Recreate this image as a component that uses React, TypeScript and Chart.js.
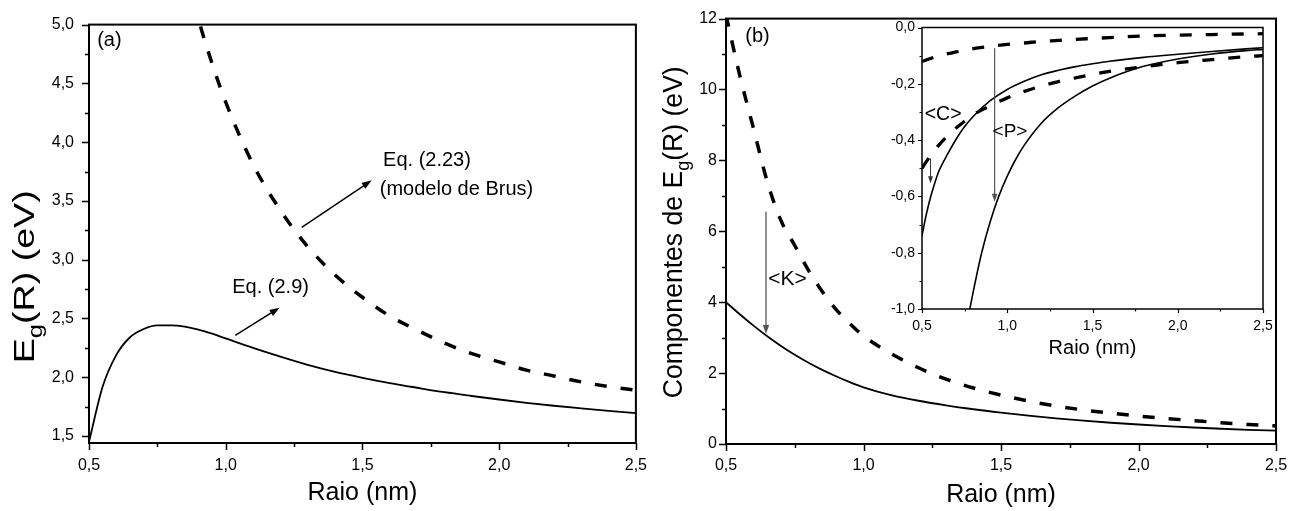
import React, { useEffect, useRef } from "react";
import { Chart, registerables } from "chart.js";
Chart.register(...registerables);

const FONT = "'Liberation Sans', Arial, Helvetica, sans-serif";

// ---------- Panel (a) ----------
const radiusA = [0.5, 0.55, 0.6, 0.65, 0.7, 0.75, 0.8, 0.85, 0.9, 0.95, 1.0, 1.1, 1.2, 1.3, 1.4, 1.5, 1.6, 1.7, 1.8, 1.9, 2.0, 2.1, 2.2, 2.3, 2.4, 2.5];
const eq29 = [1.45, 1.92, 2.19, 2.34, 2.41, 2.44, 2.44, 2.43, 2.405, 2.37, 2.33, 2.25, 2.175, 2.105, 2.045, 1.995, 1.95, 1.91, 1.872, 1.84, 1.81, 1.782, 1.757, 1.735, 1.714, 1.695];
const radiusBrus = [0.85, 0.9, 0.95, 1.0, 1.1, 1.2, 1.3, 1.4, 1.5, 1.6, 1.7, 1.8, 1.9, 2.0, 2.1, 2.2, 2.3, 2.4, 2.5];
const brus = [5.53, 5.05, 4.67, 4.34, 3.81, 3.42, 3.11, 2.87, 2.68, 2.52, 2.4, 2.29, 2.2, 2.13, 2.06, 2.01, 1.96, 1.92, 1.89];

// ---------- Panel (b) ----------
const radiusB = [0.5, 0.55, 0.6, 0.65, 0.7, 0.75, 0.8, 0.85, 0.9, 0.95, 1.0, 1.1, 1.2, 1.3, 1.4, 1.5, 1.6, 1.7, 1.8, 1.9, 2.0, 2.1, 2.2, 2.3, 2.4, 2.5];
const kinetic = [4.0, 3.66, 3.34, 3.04, 2.765, 2.515, 2.29, 2.09, 1.91, 1.745, 1.6, 1.38, 1.22, 1.09, 0.98, 0.885, 0.8, 0.725, 0.66, 0.6, 0.55, 0.505, 0.465, 0.43, 0.4, 0.375];
const confinement = [12.1, 10.4, 8.9, 7.4, 6.3, 5.6, 4.9, 4.3, 3.8, 3.4, 3.05, 2.55, 2.15, 1.83, 1.58, 1.38, 1.21, 1.07, 0.96, 0.87, 0.79, 0.72, 0.66, 0.6, 0.55, 0.51];

// ---------- Inset ----------
const radiusIn = [0.5, 0.55, 0.6, 0.65, 0.7, 0.75, 0.8, 0.9, 1.0, 1.1, 1.2, 1.3, 1.4, 1.5, 1.6, 1.8, 2.0, 2.2, 2.4, 2.5];
const insetUpperDashed = [-0.121, -0.11, -0.1, -0.093, -0.087, -0.081, -0.075, -0.067, -0.06, -0.055, -0.049, -0.046, -0.042, -0.039, -0.036, -0.03, -0.027, -0.025, -0.023, -0.022];
const insetLowerDashed = [-0.5, -0.455, -0.417, -0.385, -0.357, -0.333, -0.31, -0.278, -0.25, -0.227, -0.208, -0.192, -0.179, -0.167, -0.156, -0.139, -0.125, -0.114, -0.104, -0.1];
const radiusC = [0.5, 0.525, 0.55, 0.575, 0.6, 0.65, 0.7, 0.75, 0.8, 0.9, 1.0, 1.1, 1.2, 1.3, 1.4, 1.5, 1.6, 1.8, 2.0, 2.2, 2.4, 2.5];
const coulombC = [-0.74, -0.665, -0.603, -0.552, -0.509, -0.45, -0.397, -0.352, -0.316, -0.26, -0.22, -0.191, -0.168, -0.152, -0.139, -0.129, -0.12, -0.106, -0.095, -0.085, -0.076, -0.072];
const radiusP = [0.7, 0.75, 0.8, 0.85, 0.9, 0.95, 1.0, 1.05, 1.1, 1.2, 1.3, 1.4, 1.5, 1.6, 1.8, 2.0, 2.2, 2.4, 2.5];
const polarP = [-1.3, -1.1, -0.94, -0.8, -0.69, -0.6, -0.528, -0.468, -0.418, -0.34, -0.285, -0.243, -0.208, -0.18, -0.138, -0.112, -0.094, -0.082, -0.078];

const fmtComma = (v: number) => (Math.abs(v) < 1e-9 ? 0 : v).toFixed(1).replace(".", ",");
const fmtInt = (v: number) => String(Math.round(v));
const isMult = (v: number, step: number) => Math.abs(v / step - Math.round(v / step)) < 1e-6;
const pts = (xs: number[], ys: number[]) => xs.map((x, i) => ({ x, y: ys[i] }));

type Part = { t: string; sub?: boolean };
type Txt = { text: string; x: number; y: number; size: number };
type Arrow = { x1: number; y1: number; x2: number; y2: number; color: string; width: number; head: number };

interface Spec {
  frameWidth: number;
  tickMajor: number;
  tickMinor: number;
  tickWidth: number;
  xMajor: number;
  xMinor: number;
  yMajor: number;
  yMinor: number;
  texts: Txt[];
  arrows: Arrow[];
  xTitle: { text: string; size: number; dy: number };
  yTitle?: { parts: Part[]; size: number; dx: number; dyCenter: number; length?: number };
}

function drawRich(ctx: CanvasRenderingContext2D, parts: Part[], size: number, cx: number, cy: number, rotate: boolean, length?: number) {
  ctx.save();
  const subSize = size * 0.68;
  const widths = parts.map((p) => {
    ctx.font = `${p.sub ? subSize : size}px ${FONT}`;
    return ctx.measureText(p.t).width;
  });
  const total = widths.reduce((a, b) => a + b, 0);
  ctx.translate(cx, cy);
  if (rotate) ctx.rotate(-Math.PI / 2);
  if (length) ctx.scale(length / total, 1);
  ctx.textBaseline = "alphabetic";
  ctx.textAlign = "left";
  ctx.fillStyle = "#000";
  let x = -total / 2;
  const base = size * 0.36;
  parts.forEach((p, i) => {
    ctx.font = `${p.sub ? subSize : size}px ${FONT}`;
    ctx.fillText(p.t, x, base + (p.sub ? size * 0.28 : 0));
    x += widths[i];
  });
  ctx.restore();
}

function decor(spec: Spec) {
  return {
    id: "panelDecor",
    afterDraw(chart: any) {
      const { ctx, chartArea: ca } = chart;
      const xs = chart.scales.x;
      const ys = chart.scales.y;
      ctx.save();
      ctx.strokeStyle = "#000";
      ctx.lineWidth = spec.tickWidth;
      ctx.beginPath();
      xs.ticks.forEach((t: any) => {
        if (t.value < xs.min - 1e-9 || t.value > xs.max + 1e-9) return;
        const major = isMult(t.value, spec.xMajor);
        const minor = isMult(t.value, spec.xMinor);
        if (!major && !minor) return;
        const px = Math.round(xs.getPixelForValue(t.value)) + 0.5;
        const len = major ? spec.tickMajor : spec.tickMinor;
        ctx.moveTo(px, ca.bottom);
        ctx.lineTo(px, ca.bottom + len);
      });
      ys.ticks.forEach((t: any) => {
        if (t.value < ys.min - 1e-9 || t.value > ys.max + 1e-9) return;
        const major = isMult(t.value, spec.yMajor);
        const minor = isMult(t.value, spec.yMinor);
        if (!major && !minor) return;
        const py = Math.round(ys.getPixelForValue(t.value)) + 0.5;
        const len = major ? spec.tickMajor : spec.tickMinor;
        ctx.moveTo(ca.left, py);
        ctx.lineTo(ca.left - len, py);
      });
      ctx.stroke();
      ctx.lineWidth = spec.frameWidth;
      ctx.strokeRect(ca.left, ca.top, ca.right - ca.left, ca.bottom - ca.top);

      spec.arrows.forEach((a) => {
        const x1 = xs.getPixelForValue(a.x1);
        const y1 = ys.getPixelForValue(a.y1);
        const x2 = xs.getPixelForValue(a.x2);
        const y2 = ys.getPixelForValue(a.y2);
        const ang = Math.atan2(y2 - y1, x2 - x1);
        ctx.strokeStyle = a.color;
        ctx.fillStyle = a.color;
        ctx.lineWidth = a.width;
        ctx.beginPath();
        ctx.moveTo(x1, y1);
        ctx.lineTo(x2 - Math.cos(ang) * a.head * 0.8, y2 - Math.sin(ang) * a.head * 0.8);
        ctx.stroke();
        const hw = a.head * 0.35;
        ctx.beginPath();
        ctx.moveTo(x2, y2);
        ctx.lineTo(x2 - Math.cos(ang) * a.head - Math.sin(ang) * hw, y2 - Math.sin(ang) * a.head + Math.cos(ang) * hw);
        ctx.lineTo(x2 - Math.cos(ang) * a.head + Math.sin(ang) * hw, y2 - Math.sin(ang) * a.head - Math.cos(ang) * hw);
        ctx.closePath();
        ctx.fill();
      });

      ctx.fillStyle = "#000";
      ctx.textAlign = "center";
      ctx.textBaseline = "middle";
      spec.texts.forEach((t) => {
        ctx.font = `${t.size}px ${FONT}`;
        ctx.fillText(t.text, xs.getPixelForValue(t.x), ys.getPixelForValue(t.y));
      });

      drawRich(ctx, [{ t: spec.xTitle.text }], spec.xTitle.size, (ca.left + ca.right) / 2, ca.bottom + spec.xTitle.dy, false);
      if (spec.yTitle) {
        const yt = spec.yTitle;
        drawRich(ctx, yt.parts, yt.size, ca.left + yt.dx, (ca.top + ca.bottom) / 2 + yt.dyCenter, true, yt.length);
      }
      ctx.restore();
    },
  };
}

const solid = (data: any[], width = 1.8) => ({
  data,
  borderColor: "#000",
  borderWidth: width,
  pointRadius: 0,
  fill: false,
  cubicInterpolationMode: "monotone",
});
const dashed = (data: any[], width = 3.5, offset = 0) => ({
  data,
  borderColor: "#000",
  borderWidth: width,
  borderDash: [12, 14],
  borderDashOffset: offset,
  pointRadius: 0,
  fill: false,
  cubicInterpolationMode: "monotone",
});

function axis(min: number, max: number, step: number, major: number, fmt: (v: number) => string, size: number, padding: number, fit: (s: any) => void) {
  return {
    type: "linear",
    min,
    max,
    afterFit: fit,
    grid: { display: false, drawTicks: false },
    border: { display: false },
    ticks: {
      stepSize: step,
      includeBounds: false,
      autoSkip: false,
      maxRotation: 0,
      minRotation: 0,
      padding,
      color: "#000",
      font: { family: FONT, size },
      callback: (v: any) => (isMult(Number(v), major) ? fmt(Number(v)) : ""),
    },
  };
}

function baseOptions(padding: any, scales: any) {
  return {
    animation: false,
    responsive: false,
    maintainAspectRatio: false,
    devicePixelRatio: 1,
    events: [],
    layout: { padding },
    plugins: { legend: { display: false }, tooltip: { enabled: false } },
    scales,
  };
}

const specA: Spec = {
  frameWidth: 2,
  tickMajor: 7,
  tickMinor: 4,
  tickWidth: 1.5,
  xMajor: 0.5,
  xMinor: 0.25,
  yMajor: 0.5,
  yMinor: 0.25,
  texts: [
    { text: "(a)", x: 0.5745, y: 4.862, size: 20 },
    { text: "Eq. (2.23)", x: 1.736, y: 3.846, size: 20 },
    { text: "(modelo de Brus)", x: 1.844, y: 3.595, size: 20 },
    { text: "Eq. (2.9)", x: 1.164, y: 2.767, size: 20 },
  ],
  arrows: [
    { x1: 1.278, y1: 3.275, x2: 1.534, y2: 3.675, color: "#000", width: 1.5, head: 10 },
    { x1: 1.035, y1: 2.356, x2: 1.197, y2: 2.591, color: "#000", width: 1.5, head: 10 },
  ],
  xTitle: { text: "Raio (nm)", size: 25, dy: 48 },
  yTitle: { parts: [{ t: "E" }, { t: "g", sub: true }, { t: "(R) (eV)" }], size: 30, dx: -66, dyCenter: 43, length: 173 },
};

const specB: Spec = {
  frameWidth: 2,
  tickMajor: 7,
  tickMinor: 4,
  tickWidth: 1.5,
  xMajor: 0.5,
  xMinor: 0.25,
  yMajor: 2,
  yMinor: 1,
  texts: [
    { text: "(b)", x: 0.6145, y: 11.5, size: 20 },
    { text: "<K>", x: 0.7236, y: 4.64, size: 21 },
  ],
  arrows: [{ x1: 0.6455, y1: 6.55, x2: 0.6455, y2: 3.1, color: "#555", width: 1.3, head: 9 }],
  xTitle: { text: "Raio (nm)", size: 25, dy: 49 },
  yTitle: {
    parts: [{ t: "Componentes de E" }, { t: "g", sub: true }, { t: "(R) (eV)" }],
    size: 27,
    dx: -54,
    dyCenter: 1,
    length: 332,
  },
};

const specIn: Spec = {
  frameWidth: 1.5,
  tickMajor: 4,
  tickMinor: 2.5,
  tickWidth: 1.2,
  xMajor: 0.5,
  xMinor: 0.25,
  yMajor: 0.2,
  yMinor: 0.1,
  texts: [
    { text: "<C>", x: 0.624, y: -0.311, size: 19.5 },
    { text: "<P>", x: 1.016, y: -0.37, size: 19 },
  ],
  arrows: [
    { x1: 0.55, y1: -0.465, x2: 0.55, y2: -0.553, color: "#333", width: 1, head: 7 },
    { x1: 0.926, y1: -0.074, x2: 0.926, y2: -0.619, color: "#555", width: 1.2, head: 8 },
  ],
  xTitle: { text: "Raio (nm)", size: 20, dy: 38 },
};

const cfgA = () => ({
  type: "line",
  data: { datasets: [solid(pts(radiusA, eq29)), dashed(pts(radiusBrus, brus), 3.5, 12)] },
  options: baseOptions(
    { top: 13, right: 21, left: 0, bottom: 0 },
    {
      x: axis(0.5, 2.5, 0.25, 0.5, fmtComma, 16, 13, (s: any) => { s.height = 68; }),
      y: axis(1.44, 5.0, 0.25, 0.5, fmtComma, 16, 15, (s: any) => { s.width = 89; }),
    }
  ),
  plugins: [decor(specA)],
});

const cfgB = () => ({
  type: "line",
  data: { datasets: [solid(pts(radiusB, kinetic)), dashed(pts(radiusB, confinement))] },
  options: baseOptions(
    { top: 15, right: 27, left: 0, bottom: 0 },
    {
      x: axis(0.5, 2.5, 0.25, 0.5, fmtComma, 16, 12, (s: any) => { s.height = 67; }),
      y: axis(0, 12, 1, 2, fmtInt, 16, 9, (s: any) => { s.width = 66; }),
    }
  ),
  plugins: [decor(specB)],
});

const cfgIn = () => ({
  type: "line",
  data: {
    datasets: [
      dashed(pts(radiusIn, insetUpperDashed), 3.3),
      dashed(pts(radiusIn, insetLowerDashed), 3.3),
      solid(pts(radiusC, coulombC), 1.6),
      solid(pts(radiusP, polarP), 1.6),
    ],
  },
  options: baseOptions(
    { top: 27.5, right: 27, left: 0, bottom: 0 },
    {
      x: axis(0.5, 2.5, 0.25, 0.5, fmtComma, 14, 9, (s: any) => { s.height = 56; }),
      y: axis(-1.0, 0.0, 0.1, 0.2, fmtComma, 14, 7, (s: any) => { s.width = 62; }),
    }
  ),
  plugins: [decor(specIn)],
});

function Panel(props: { left: number; top: number; width: number; height: number; make: () => any }) {
  const ref = useRef<HTMLCanvasElement>(null);
  useEffect(() => {
    const chart = new Chart(ref.current as HTMLCanvasElement, props.make());
    return () => chart.destroy();
  }, []);
  return (
    <canvas
      ref={ref}
      width={props.width}
      height={props.height}
      style={{ position: "absolute", left: props.left, top: props.top, width: props.width, height: props.height }}
    />
  );
}

export default function App() {
  return (
    <div style={{ position: "absolute", left: 0, top: 0, width: 1303, height: 511, background: "#fff", overflow: "hidden" }}>
      <Panel left={0} top={0} width={660} height={511} make={cfgA} />
      <Panel left={660} top={0} width={643} height={511} make={cfgB} />
      <Panel left={860} top={0} width={430} height={365} make={cfgIn} />
    </div>
  );
}
